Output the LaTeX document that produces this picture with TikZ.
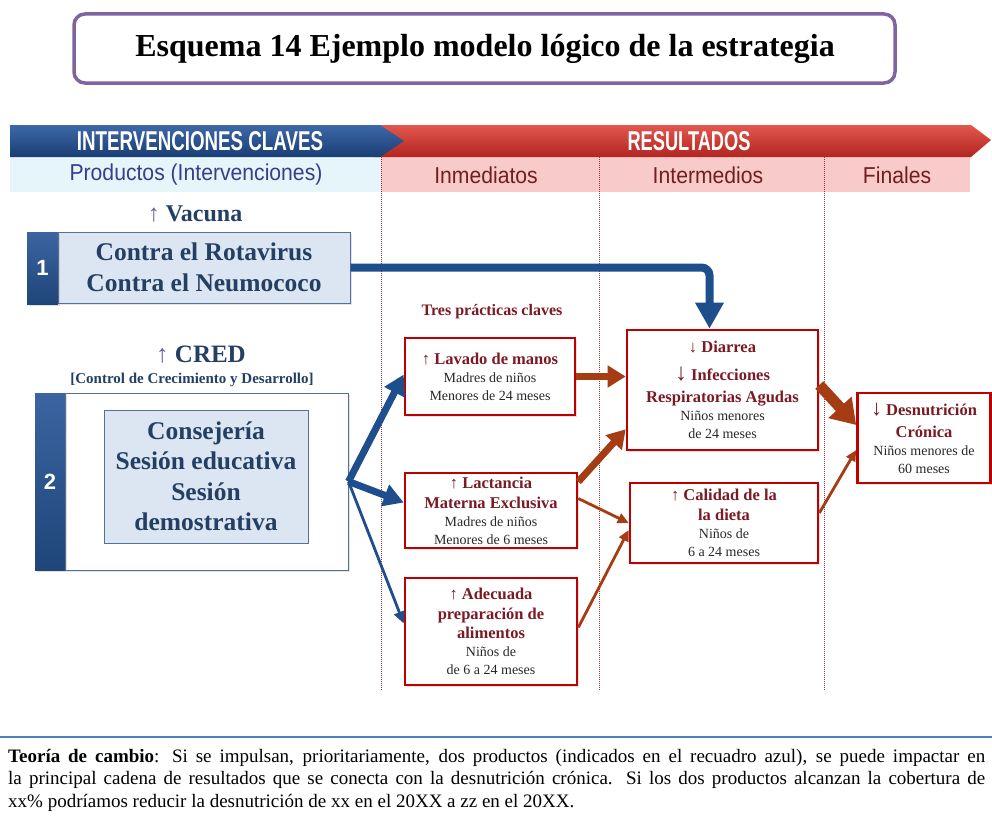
\documentclass[tikz,border=0pt]{standalone}
\usepackage{fontspec}
\usepackage{graphicx}
\setmainfont{Liberation Serif}
\newfontfamily\arialf{Liberation Sans}
\usetikzlibrary{arrows.meta,shadows}
\definecolor{tpurple}{RGB}{128,100,162}
\definecolor{bbTop}{RGB}{62,104,168}
\definecolor{bbBot}{RGB}{26,62,116}
\definecolor{rbTop}{RGB}{226,88,78}
\definecolor{rbBot}{RGB}{178,36,32}
\definecolor{lband}{RGB}{230,245,249}
\definecolor{pband}{RGB}{249,202,202}
\definecolor{prodtxt}{RGB}{58,60,140}
\definecolor{restxt}{RGB}{112,30,32}
\definecolor{dotc}{RGB}{140,60,60}
\definecolor{navy}{RGB}{36,63,100}
\definecolor{lblue}{RGB}{220,230,242}
\definecolor{bborder}{RGB}{84,112,150}
\definecolor{tabTop}{RGB}{60,100,160}
\definecolor{tabc}{RGB}{30,70,122}
\definecolor{barrow}{RGB}{31,78,140}
\definecolor{rborder}{RGB}{192,0,0}
\definecolor{dred}{RGB}{122,26,36}
\definecolor{gtxt}{RGB}{40,40,40}
\definecolor{rarrow}{RGB}{165,60,20}
\definecolor{sepblue}{RGB}{79,129,189}
\definecolor{apurple}{RGB}{110,90,160}
\newcommand\hb[1]{{\fontsize{16.5}{20}\selectfont\bfseries\color{dred}#1}}
\begin{document}
\begin{tikzpicture}[x=1pt,y=-1pt,
  redbox/.style={draw=rborder, line width=2.6pt, fill=white, align=center,
    inner sep=0pt, text=gtxt, font=\fontsize{14}{18}\selectfont,
    drop shadow={opacity=0.22,shadow xshift=2pt,shadow yshift=-2pt}},
  bluebox/.style={draw=bborder, line width=1pt, fill=lblue, align=center,
    inner sep=0pt, text=navy, font=\fontsize{25.5}{30.5}\selectfont\bfseries},
  tabbox/.style={draw=none, top color=tabTop, bottom color=tabc, inner sep=0pt,
    text=white, font=\arialf\bfseries\fontsize{22}{24}\selectfont,
    drop shadow={opacity=0.25,shadow xshift=2pt,shadow yshift=-2pt}},
  hdrtxt/.style={inner sep=0pt, font=\arialf\fontsize{23}{26}\selectfont},
  bannertxt/.style={inner sep=0pt, text=white, font=\arialf\bfseries},
  bthick/.style={draw=barrow, line width=7pt, -{Triangle[length=20pt,width=22pt]}},
  bthin/.style={draw=barrow, line width=2.8pt, -{Triangle[length=12pt,width=11pt]}},
  rthick/.style={draw=rarrow, line width=7pt, -{Triangle[length=18pt,width=21pt]}},
  rthin/.style={draw=rarrow, line width=2.8pt, -{Triangle[length=11pt,width=10pt]}},
  dotline/.style={draw=dotc, line width=0.9pt, dash pattern=on 1pt off 1pt}
]
\useasboundingbox (0,0) rectangle (992,816);
\fill[white] (0,0) rectangle (992,816);

% title
\draw[rounded corners=11pt, line width=3.5pt, draw=tpurple, fill=white] (74,14) rectangle (895,83);
\node[inner sep=0pt, font=\fontsize{32}{36}\selectfont\bfseries] (title) at (485,49) {Esquema 14 Ejemplo modelo lógico de la estrategia};

% header bands
\fill[lband] (10,157) rectangle (381,192);
\fill[pband] (381,157) rectangle (970,192);
\shade[top color=rbTop, bottom color=rbBot] (375,125) -- (971,125) -- (991,140) -- (971,157) -- (375,157) -- cycle;
\shade[top color=bbTop, bottom color=bbBot] (10,125) -- (380,125) -- (404,141) -- (380,157) -- (10,157) -- cycle;
\node[bannertxt] (intv) at (200,141) {\resizebox{246pt}{19pt}{INTERVENCIONES CLAVES}};
\node[bannertxt] (res) at (689,141) {\resizebox{123pt}{19pt}{RESULTADOS}};
\node[hdrtxt, text=prodtxt] (prod) at (196,175) {\scalebox{0.92}[1]{Productos (Intervenciones)}};
\node[hdrtxt, text=restxt] (inm) at (486,175) {\scalebox{0.92}[1]{Inmediatos}};
\node[hdrtxt, text=restxt] (intm) at (708,175) {\scalebox{0.92}[1]{Intermedios}};
\node[hdrtxt, text=restxt] (fin) at (897,175) {\scalebox{0.92}[1]{Finales}};

% dotted column separators
\draw[dotline] (381,157) -- (381,690);
\draw[dotline] (599,157) -- (599,690);
\draw[dotline] (824,157) -- (824,690);

% product 1
\node[inner sep=0pt, text=navy, font=\fontsize{24}{28}\selectfont\bfseries] (vac) at (195,214) {{\color{apurple}\mdseries↑} Vacuna};
\node[bluebox, minimum width=292pt, minimum height=71pt,
  drop shadow={opacity=0.22,shadow xshift=2pt,shadow yshift=-2pt}] (b1) at (204,267.5)
  {Contra el Rotavirus\\Contra el Neumococo};
\node[tabbox, minimum width=31pt, minimum height=72pt] (t1) at (42.5,268) {1};

% product 2
\node[inner sep=0pt, text=navy, font=\fontsize{25}{28}\selectfont\bfseries] (cred) at (201,355) {{\color{apurple}\mdseries↑} CRED};
\node[inner sep=0pt, text=navy, font=\fontsize{15}{18}\selectfont\bfseries] (credl) at (192,380) {[Control de Crecimiento y Desarrollo]};
\node[draw=bborder, line width=1pt, fill=white, minimum width=283pt, minimum height=177pt,
  drop shadow={opacity=0.22,shadow xshift=2pt,shadow yshift=-2pt}] (b2) at (206.5,481.5) {};
\node[bluebox, minimum width=204pt, minimum height=133pt] (b2in) at (206,476.5)
  {Consejería\\Sesión educativa\\Sesión\\demostrativa};
\node[tabbox, minimum width=30pt, minimum height=177pt] (t2) at (50,481.5) {2};

% results
\node[inner sep=0pt, text=dred, font=\fontsize{16}{18}\selectfont\bfseries] (tres) at (492,312) {Tres prácticas claves};
\node[redbox, minimum width=170pt, minimum height=77pt] (lav) at (490,376.5)
  {\hb{↑ Lavado de manos}\\Madres de niños\\Menores de 24 meses};
\node[redbox, minimum width=172pt, minimum height=75pt] (lac) at (491,510.5)
  {\hb{↑ Lactancia}\\[2pt]\hb{Materna Exclusiva}\\Madres de niños\\Menores de 6 meses};
\node[redbox, minimum width=172pt, minimum height=107pt] (ade) at (491,631.5)
  {\hb{↑ Adecuada}\\[2pt]\hb{preparación de}\\[1pt]\hb{alimentos}\\Niños de\\de 6 a 24 meses};
\node[redbox, minimum width=191pt, minimum height=120pt] (diar) at (722.5,390)
  {\hb{↓ Diarrea}\\[10pt]\hb{{\fontsize{24}{24}\selectfont\mdseries↓} Infecciones}\\[4pt]\hb{Respiratorias Agudas}\\Niños menores\\de 24 meses};
\node[redbox, minimum width=188pt, minimum height=80pt] (cal) at (724,523)
  {\hb{↑ Calidad de la}\\[2pt]\hb{la dieta}\\Niños de\\6 a 24 meses};
\node[redbox, minimum width=133pt, minimum height=90pt] (des) at (924,438)
  {\hb{{\fontsize{22}{22}\selectfont\mdseries↓} Desnutrición}\\[4pt]\hb{Crónica}\\Niños menores de\\60 meses};

% blue connectors
\draw[draw=barrow, line width=8pt, rounded corners=8pt, -{Triangle[length=26pt,width=27pt]}]
  (b1.east) -| ([xshift=-13pt]diar.north);
\draw[bthick] (b2.east) -- ([yshift=2pt]lav.west);
\draw[bthick] (b2.east) -- ([yshift=8pt]lac.west);
\draw[bthin] (b2.east) -- ([yshift=8pt]ade.west);

% red connectors
\draw[rthick] (lav.east) -- (lav.east -| diar.west);
\draw[rthick] ([yshift=-10pt]lac.north east) -- ([yshift=22pt]diar.south west);
\draw[rthin] ([yshift=12pt]lac.east) -- (cal.west);
\draw[rthin] ([yshift=4pt]ade.east) -- ([yshift=-7pt]cal.west);
\draw[draw=rarrow, line width=11pt, -{Triangle[length=24pt,width=30pt]}] ([yshift=5pt]diar.east) -- ([yshift=13pt]des.west);
\draw[rthin] ([yshift=10pt]cal.east) -- ([yshift=-12pt]des.west);

% theory of change
\draw[line width=2.5pt, draw=sepblue] (0,737) -- (992,737);
\node[anchor=north west, inner sep=0pt, text width=977pt, align=justify,
  font=\fontsize{19}{22.5}\selectfont] (theory) at (8,749)
  {\textbf{Teoría de cambio}: Si se impulsan, prioritariamente, dos productos (indicados en el recuadro azul), se puede impactar en\linebreak
   la principal cadena de resultados que se conecta con la desnutrición crónica. Si los dos productos alcanzan la cobertura de\linebreak
   xx\% podríamos reducir la desnutrición de xx en el 20XX a zz en el 20XX.};
\end{tikzpicture}
\end{document}
